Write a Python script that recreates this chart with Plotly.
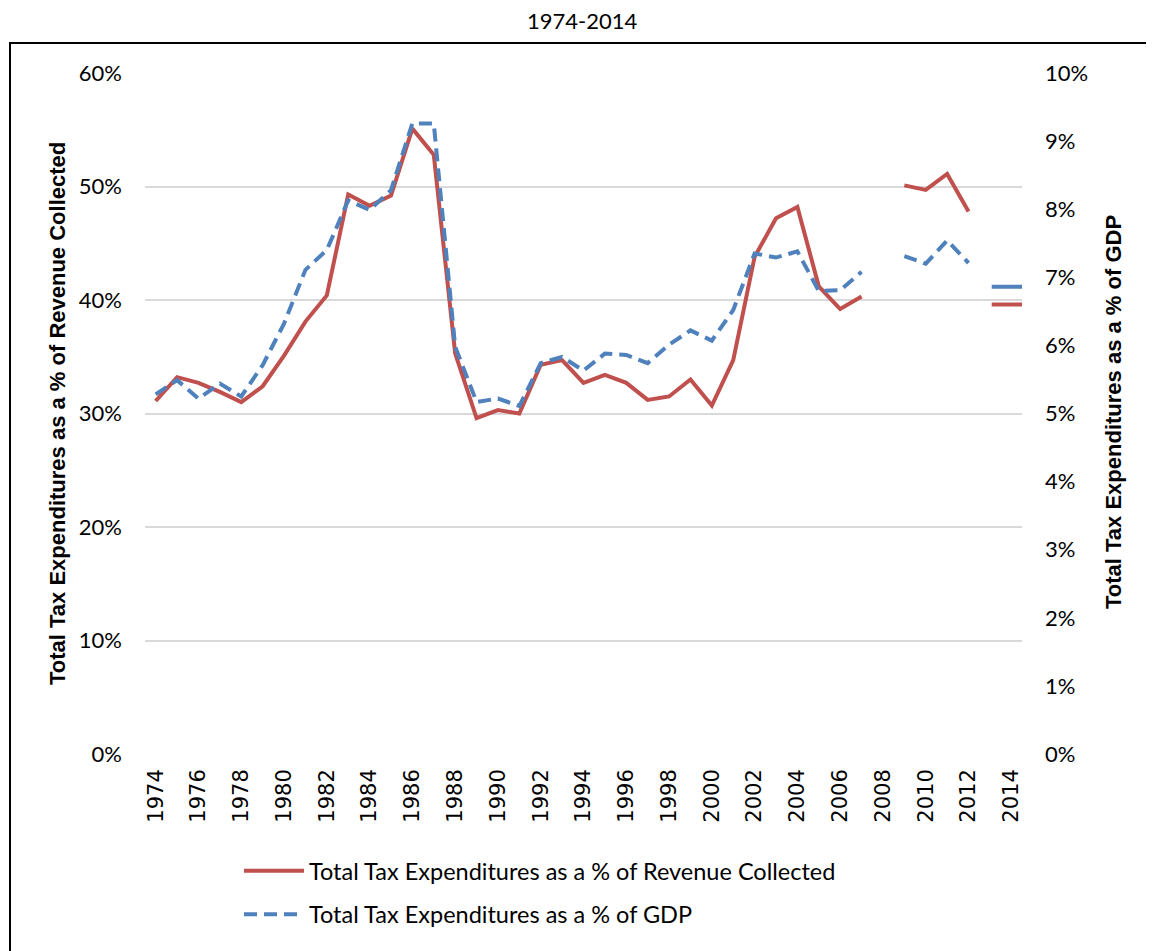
import plotly.graph_objects as go

years = list(range(1974, 2015))

revenue_pct = [31.1, 33.2, 32.7, 31.9, 31.0, 32.4, 35.1, 38.1, 40.4, 49.3,
               48.3, 49.2, 55.1, 52.8, 35.3, 29.6, 30.3, 30.0, 34.3, 34.7,
               32.7, 33.4, 32.7, 31.2, 31.5, 33.0, 30.7, 34.7, 43.8, 47.2,
               48.2, 41.2, 39.2, 40.3, None, 50.1, 49.7, 51.1, 47.8, None,
               39.6]

gdp_pct = [5.28, 5.49, 5.22, 5.44, 5.25, 5.71, 6.32, 7.11, 7.40, 8.13,
           7.99, 8.28, 9.26, 9.26, 5.98, 5.17, 5.22, 5.11, 5.74, 5.83,
           5.63, 5.88, 5.86, 5.74, 6.01, 6.22, 6.07, 6.52, 7.35, 7.29,
           7.38, 6.80, 6.81, 7.08, None, 7.31, 7.20, 7.54, 7.21, None,
           6.86]

left_ticks = [0, 10, 20, 30, 40, 50, 60]
right_ticks = [0, 1, 2, 3, 4, 5, 6, 7, 8, 9, 10]
x_ticks = list(range(1974, 2015, 2))

name_rev = "Total Tax Expenditures as a % of Revenue Collected"
name_gdp = "Total Tax Expenditures as a % of GDP"
left_title = "Total Tax Expenditures as a % of Revenue Collected"
right_title = "Total Tax Expenditures as a % of GDP"
chart_title = "1974-2014"

RED = "#C0504D"
BLUE = "#4F81BD"


def isolated(xs, vs):
    ox, ov = [], []
    for i, v in enumerate(vs):
        if v is None:
            continue
        prev_none = i == 0 or vs[i - 1] is None
        next_none = i == len(vs) - 1 or vs[i + 1] is None
        if prev_none and next_none:
            ox.append(xs[i])
            ov.append(v)
    return ox, ov


fig = go.Figure()

fig.add_trace(go.Scatter(x=years, y=revenue_pct, mode="lines", name=name_rev,
                         line=dict(color=RED, width=4), connectgaps=False,
                         yaxis="y", legendgroup="a"))
fig.add_trace(go.Scatter(x=years, y=gdp_pct, mode="lines", name=name_gdp,
                         line=dict(color=BLUE, width=4, dash="13px,7px"),
                         connectgaps=False, yaxis="y2", legendgroup="b"))

ix, iv = isolated(years, revenue_pct)
fig.add_trace(go.Scatter(x=ix, y=iv, mode="markers", showlegend=False,
                         marker=dict(symbol="line-ew", size=28,
                                     line=dict(color=RED, width=4)),
                         yaxis="y"))
ix, iv = isolated(years, gdp_pct)
fig.add_trace(go.Scatter(x=ix, y=iv, mode="markers", showlegend=False,
                         marker=dict(symbol="line-ew", size=28,
                                     line=dict(color=BLUE, width=4)),
                         yaxis="y2"))

# page body has an 8px margin; work in screen pixels and convert
OFF = 8
W, H = 1146, 943
L, R, T, B = 137, 132, 65, 197
pw, ph = W - L - R, H - T - B


def px_x(sx):
    return (sx - OFF - L) / pw


def px_y(sy):
    return (H - B - (sy - OFF)) / ph


fig.update_layout(
    width=W, height=H,
    margin=dict(l=L, r=R, t=T, b=B),
    paper_bgcolor="white", plot_bgcolor="white",
    font=dict(family="Lato", color="#000000"),
    xaxis=dict(
        range=[1973.5, 2014.5], tickmode="array", tickvals=x_ticks,
        ticktext=[str(v) for v in x_ticks], tickangle=-90,
        tickfont=dict(family="DejaVu Sans", size=21, color="#000"),
        showgrid=False, zeroline=False, showline=False, ticks="",
        ticklabelstandoff=10,
    ),
    yaxis=dict(
        range=[0, 60], tickmode="array", tickvals=left_ticks,
        ticktext=[f"{v}%" for v in left_ticks],
        tickfont=dict(family="Lato", size=22, color="#000"),
        showgrid=True, gridcolor="#d9d9d9", gridwidth=2,
        zeroline=False, showline=False, ticks="", ticklabelstandoff=22,
    ),
    yaxis2=dict(
        range=[0, 10], tickmode="array", tickvals=right_ticks,
        ticktext=[f"{v}%" for v in right_ticks], overlaying="y", side="right",
        tickfont=dict(family="Lato", size=22, color="#000"),
        showgrid=False, zeroline=False, showline=False, ticks="",
        ticklabelstandoff=22,
    ),
    legend=dict(
        x=px_x(239), y=px_y(849), xanchor="left", yanchor="top",
        font=dict(family="Lato", size=23.5, color="#000"),
        bgcolor="rgba(0,0,0,0)", tracegroupgap=10, itemwidth=60,
    ),
    showlegend=True,
    annotations=[
        dict(text=chart_title, xref="paper", yref="paper", x=px_x(582),
             y=px_y(20), showarrow=False, xanchor="center", yanchor="middle",
             font=dict(family="Lato", size=22, color="#000")),
        dict(text=f"<b>{left_title}</b>", xref="paper", yref="paper",
             x=px_x(57), y=px_y(414), textangle=-90, showarrow=False,
             xanchor="center", yanchor="middle",
             font=dict(family="Liberation Sans", size=22, color="#000")),
        dict(text=f"<b>{right_title}</b>", xref="paper", yref="paper",
             x=px_x(1113), y=px_y(412), textangle=-90, showarrow=False,
             xanchor="center", yanchor="middle",
             font=dict(family="Liberation Sans", size=22, color="#000")),
    ],
    shapes=[
        dict(type="rect", xref="paper", yref="paper",
             x0=px_x(10), y0=px_y(965), x1=px_x(1170), y1=px_y(43),
             line=dict(color="#000", width=2), fillcolor="rgba(0,0,0,0)",
             layer="below"),
    ],
)

fig.write_html("out.html")
